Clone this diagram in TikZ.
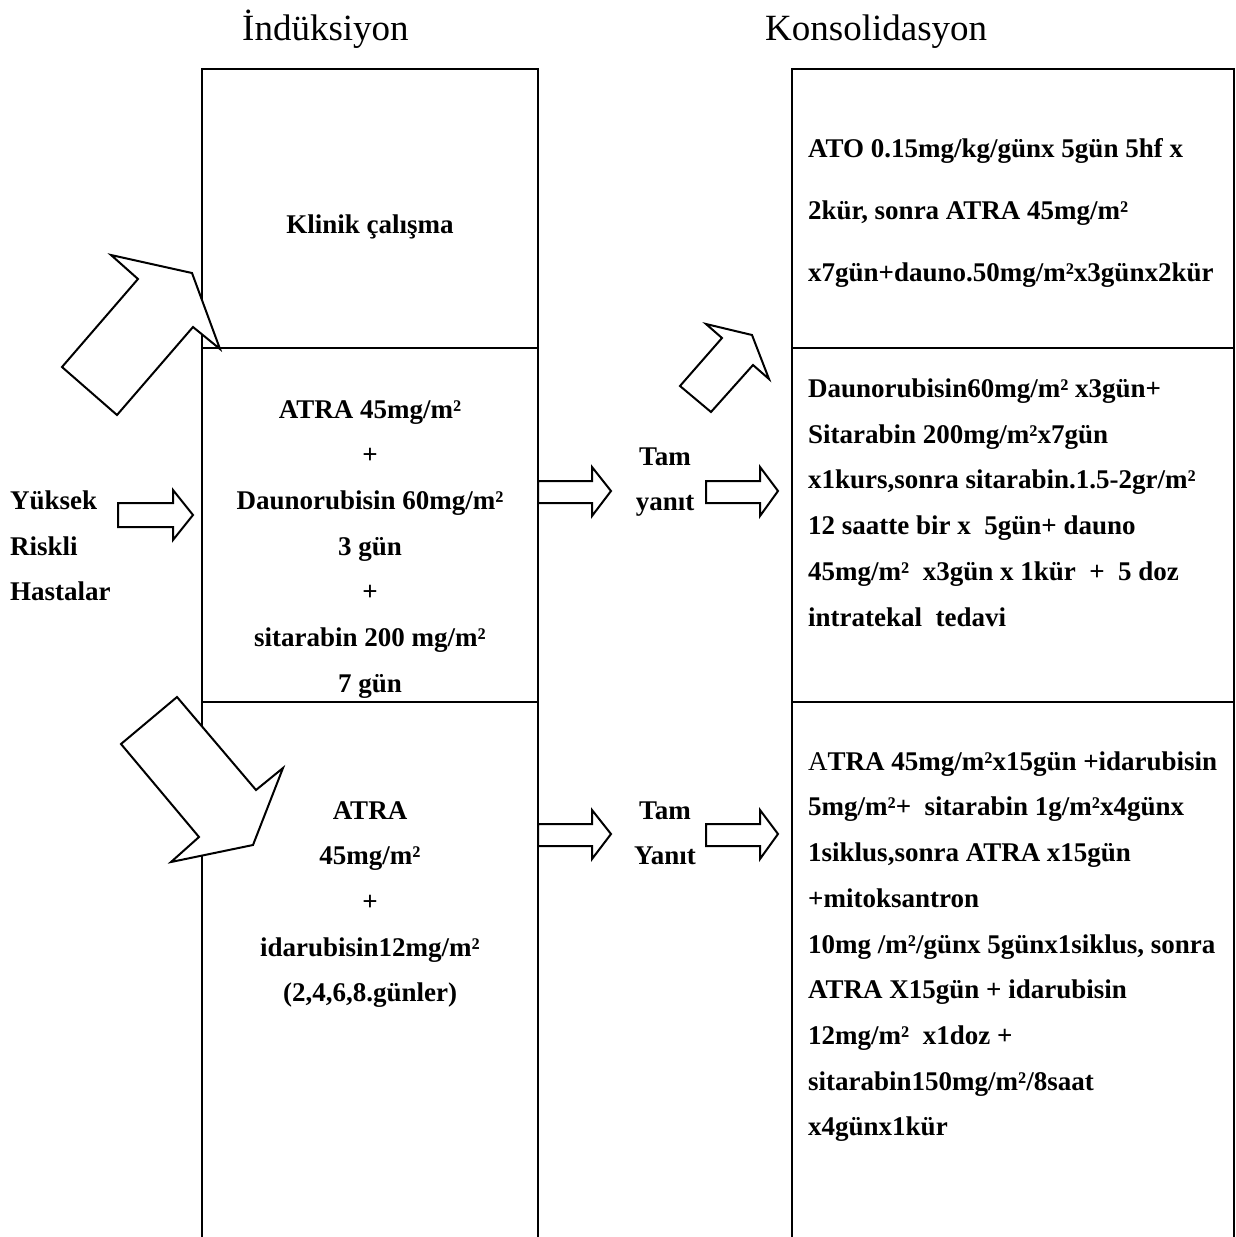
\documentclass[tikz,border=0pt]{standalone}
\usepackage{fontspec}
\setmainfont{Liberation Serif}
\begin{document}
\begin{tikzpicture}[x=1pt,y=-1pt,
  box/.style={line width=2.5pt},
  blk/.style={draw, line width=2pt, line join=miter, fill=white},
  txt/.style={font=\fontsize{27}{32}\selectfont\bfseries, inner sep=0pt, anchor=base west},
  ctxt/.style={txt, anchor=base},
  hdr/.style={font=\fontsize{37}{44}\selectfont, inner sep=0pt, anchor=base west}]
\useasboundingbox (0,0) rectangle (1236,1237);
% headers
\node[hdr] (hind) at (242,40) {İndüksiyon};
\node[hdr] (hkon) at (765,40) {Konsolidasyon};
% columns
\draw[box] (202,1237) -- (202,69) -- (538,69) -- (538,1237);
\draw[box] (202,348) -- (538,348);
\draw[box] (202,702) -- (538,702);
\draw[box] (792,1237) -- (792,69) -- (1234,69) -- (1234,1237);
\draw[box] (792,348) -- (1234,348);
\draw[box] (792,702) -- (1234,702);
% block arrows
\draw[blk] (62,367) -- (138,279) -- (111,255) -- (192,273) -- (220,349) -- (193,327) -- (117,415) -- cycle;
\draw[blk] (177,697) -- (121,744) -- (199,837) -- (171,862) -- (253,845) -- (283,768) -- (256,790) -- cycle;
\draw[blk] (680,386) -- (722,338) -- (706,324) -- (752,335) -- (769,379) -- (753,365) -- (711,412) -- cycle;
\draw[blk] (118,503) -- (173,503) -- (173,490) -- (193,515) -- (173,540) -- (173,527) -- (118,527) -- cycle;
\draw[blk] (538,481) -- (592,481) -- (592,467) -- (611,491) -- (592,516) -- (592,503) -- (538,503) -- cycle;
\draw[blk] (706,481) -- (760,481) -- (760,467) -- (778,491) -- (760,516) -- (760,503) -- (706,503) -- cycle;
\draw[blk] (538,824) -- (592,824) -- (592,810) -- (611,834) -- (592,859) -- (592,846) -- (538,846) -- cycle;
\draw[blk] (706,824) -- (760,824) -- (760,810) -- (778,834) -- (760,859) -- (760,846) -- (706,846) -- cycle;
% left labels
\node[txt] (y1) at (10,509) {Yüksek};
\node[txt] (y2) at (10,555) {Riskli};
\node[txt] (y3) at (10,600) {Hastalar};
% induction column
\node[ctxt] (k1) at (370,233) {Klinik çalışma};
\node[ctxt] (a1) at (370,418) {ATRA 45mg/m²};
\node[ctxt] (a2) at (370,463.7) {+};
\node[ctxt] (a3) at (370,509.4) {Daunorubisin 60mg/m²};
\node[ctxt] (a4) at (370,555) {3 gün};
\node[ctxt] (a5) at (370,600.8) {+};
\node[ctxt] (a6) at (370,646.5) {sitarabin 200 mg/m²};
\node[ctxt] (a7) at (370,692.2) {7 gün};
\node[ctxt] (b1) at (370,819) {ATRA};
\node[ctxt] (b2) at (370,864.7) {45mg/m²};
\node[ctxt] (b3) at (370,910.4) {+};
\node[ctxt] (b4) at (370,956) {idarubisin12mg/m²};
\node[ctxt] (b5) at (370,1001.8) {(2,4,6,8.günler)};
% response labels
\node[ctxt] (t1) at (665,465) {Tam};
\node[ctxt] (t2) at (665,510) {yanıt};
\node[ctxt] (t3) at (665,819) {Tam};
\node[ctxt] (t4) at (665,864) {Yanıt};
% consolidation top
\node[txt] (c1) at (808,157) {ATO 0.15mg/kg/günx 5gün 5hf x};
\node[txt] (c2) at (808,219) {2kür, sonra ATRA 45mg/m²};
\node[txt] (c3) at (808,281) {x7gün+dauno.50mg/m²x3günx2kür};
% consolidation middle
\node[txt] (d1) at (808,397) {Daunorubisin60mg/m² x3gün+};
\node[txt] (d2) at (808,443) {Sitarabin 200mg/m²x7gün};
\node[txt] (d3) at (808,488.5) {x1kurs,sonra sitarabin.1.5-2gr/m²};
\node[txt] (d4) at (808,534) {12 saatte bir x\ \ 5gün+ dauno};
\node[txt] (d5) at (808,580) {45mg/m²\ \ x3gün x 1kür\ \ +\ \ 5 doz};
\node[txt] (d6) at (808,626) {intratekal\ \ tedavi};
% consolidation bottom
\node[txt] (e1) at (808,770) {{\mdseries A}TRA 45mg/m²x15gün +idarubisin};
\node[txt] (e2) at (808,815.7) {5mg/m²+\ \ sitarabin 1g/m²x4günx};
\node[txt] (e3) at (808,861.4) {1siklus,sonra ATRA x15gün};
\node[txt] (e4) at (808,907) {+mitoksantron};
\node[txt] (e5) at (808,953) {10mg /m²/günx 5günx1siklus, sonra};
\node[txt] (e6) at (808,998) {ATRA X15gün + idarubisin};
\node[txt] (e7) at (808,1044) {12mg/m²\ \ x1doz +};
\node[txt] (e8) at (808,1090) {sitarabin150mg/m²/8saat};
\node[txt] (e9) at (808,1135) {x4günx1kür};
\end{tikzpicture}
\end{document}
